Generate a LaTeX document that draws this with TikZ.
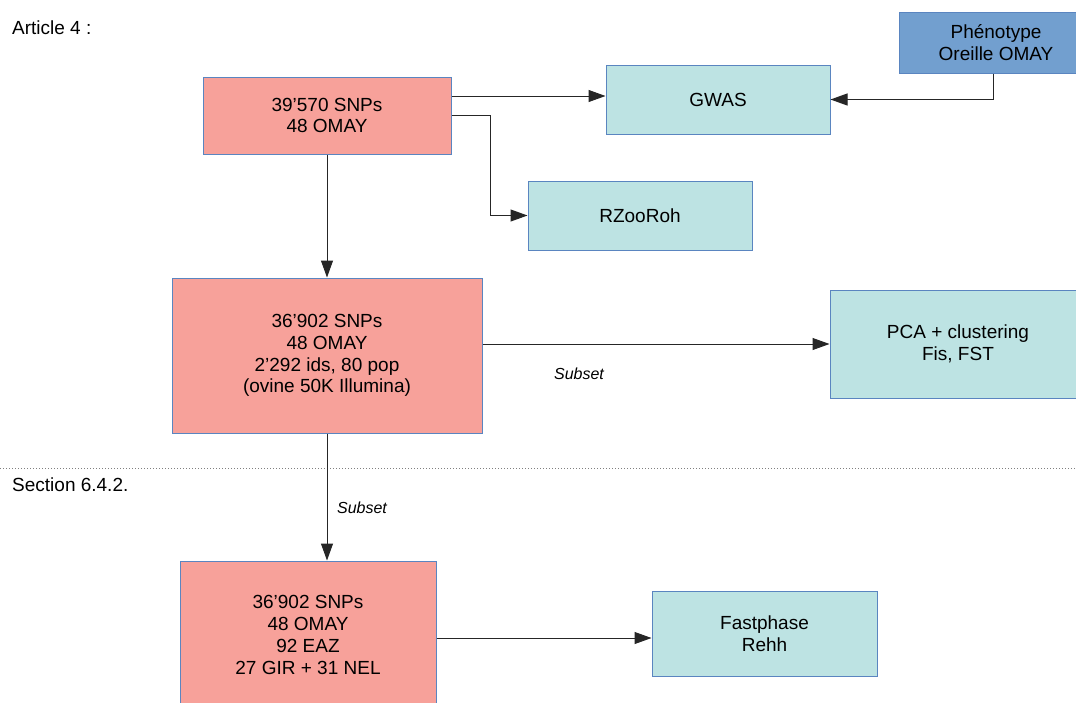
\documentclass[tikz,border=0pt]{standalone}
\usepackage{fontspec}
\setmainfont{Liberation Sans}
\usetikzlibrary{arrows.meta}
\definecolor{salmon}{HTML}{F7A19A}
\definecolor{teal}{HTML}{BDE3E3}
\definecolor{pheno}{HTML}{729FCF}
\definecolor{bord}{HTML}{5A85C0}
\begin{document}
\begin{tikzpicture}[x=1pt,y=-1pt,
  box/.style={draw=bord, line width=1pt, rectangle, align=center, inner sep=0pt,
    font=\fontsize{19}{21.8}\selectfont},
  redbox/.style={box, fill=salmon},
  tealbox/.style={box, fill=teal},
  bluebox/.style={box, fill=pheno},
  arr/.style={draw=black!85, line width=1pt, -{Triangle[length=17pt,width=12pt]}},
  lbl/.style={font=\fontsize{19}{21.8}\selectfont, inner sep=0pt, anchor=west},
  sub/.style={font=\fontsize{16}{18}\selectfont\itshape, inner sep=0pt}
]
\useasboundingbox (0,0) rectangle (1076,702);
\clip (0,0) rectangle (1076,702);
\fill[white] (0,0) rectangle (1076,702);

\node[lbl] (art) at (12,28) {Article 4 :};
\node[lbl] (sec) at (12,485) {Section 6.4.2.};

\coordinate (d1) at (0,468);
\coordinate (d2) at (1076,468);
\draw[gray, line width=1pt, dotted] (d1) -- (d2);

\node[redbox, minimum width=248pt, minimum height=77pt] (A) at (327,115.5) {39’570 SNPs\\48 OMAY};
\node[tealbox, minimum width=224pt, minimum height=69pt] (G) at (718,99.5) {GWAS};
\node[bluebox, minimum width=194pt, minimum height=61pt] (P) at (996,42.5) {Phénotype\\Oreille OMAY};
\node[tealbox, minimum width=224pt, minimum height=69pt] (R) at (640,215.5) {RZooRoh};
\node[redbox, minimum width=310pt, minimum height=155pt] (B) at (327,355.5) {36’902 SNPs\\48 OMAY\\2’292 ids, 80 pop\\(ovine 50K Illumina)};
\node[tealbox, minimum width=256pt, minimum height=108pt] (PCA) at (958,344) {PCA + clustering\\Fis, FST};
\node[redbox, minimum width=256pt, minimum height=148pt] (C) at (308,635) {36’902 SNPs\\48 OMAY\\92 EAZ\\27 GIR + 31 NEL};
\node[tealbox, minimum width=225pt, minimum height=85pt] (F) at (764.5,634) {Fastphase\\Rehh};

\coordinate (a1) at ([yshift=19.5pt]A.east);
\draw[arr] (a1) -- (a1 -| G.west);
\draw[arr] (A.east) -- ++(39,0) |- (R.west);
\coordinate (p1) at ([xshift=-3pt]P.south);
\draw[arr] (p1) |- (G.east);
\draw[arr] (A.south) -- (B.north);
\coordinate (b1) at ([yshift=11.5pt]B.east);
\draw[arr] (b1) -- (b1 -| PCA.west);
\draw[arr] (B.south) -- (B.south |- C.north);
\coordinate (c1) at ([yshift=-3pt]C.east);
\draw[arr] (c1) -- (c1 -| F.west);

\node[sub] (s1) at (579,374) {Subset};
\node[sub] (s2) at (362,508) {Subset};
\end{tikzpicture}
\end{document}
